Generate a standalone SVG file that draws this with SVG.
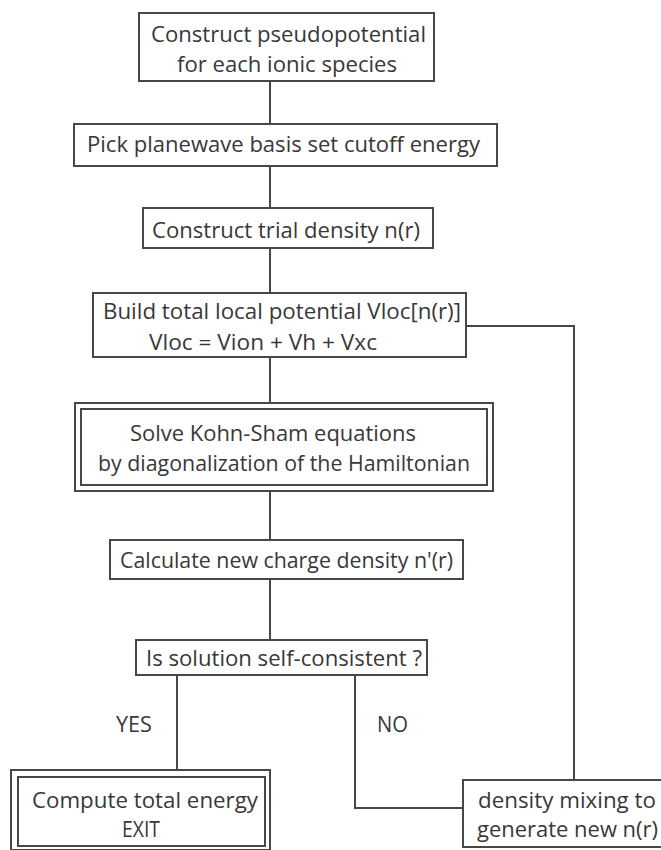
<svg xmlns="http://www.w3.org/2000/svg" width="661" height="850" viewBox="0 0 661 850">
<style>
.b{fill:#fff;stroke:#474747;stroke-width:2}
.c{fill:none;stroke:#474747;stroke-width:2}
text{font-family:"Open Sans","Noto Sans","Liberation Sans",sans-serif;font-size:21px;fill:#383838}
</style>
<rect width="661" height="850" fill="#fff"/>
<g id="connectors">
<path class="c" d="M270 81V124M270 166V208M270 248V293M270 357V403M270 491V540M270 579V640"/>
<path class="c" d="M466 326H574V780"/>
<path class="c" d="M177 675V770"/>
<path class="c" d="M355 675V808H463"/>
</g>
<g id="n1"><rect class="b" x="139" y="13" width="295" height="68"/>
<text x="151" y="42" textLength="275" lengthAdjust="spacingAndGlyphs">Construct pseudopotential</text>
<text x="177" y="72" textLength="220" lengthAdjust="spacingAndGlyphs">for each ionic species</text></g>
<g id="n2"><rect class="b" x="74" y="124" width="423" height="42"/>
<text x="87" y="152" textLength="393" lengthAdjust="spacingAndGlyphs">Pick planewave basis set cutoff energy</text></g>
<g id="n3"><rect class="b" x="143" y="208" width="290" height="40"/>
<text x="152" y="238" textLength="268" lengthAdjust="spacingAndGlyphs">Construct trial density n(r)</text></g>
<g id="n4"><rect class="b" x="93" y="293" width="373" height="64"/>
<text x="103" y="319" textLength="358" lengthAdjust="spacingAndGlyphs">Build total local potential Vloc[n(r)]</text>
<text x="149" y="350" textLength="228" lengthAdjust="spacingAndGlyphs">Vloc = Vion + Vh + Vxc</text></g>
<g id="n5"><rect class="b" x="75" y="403" width="418" height="88"/>
<rect class="b" x="81" y="409" width="406" height="76"/>
<text x="130" y="441" textLength="286" lengthAdjust="spacingAndGlyphs">Solve Kohn-Sham equations</text>
<text x="98" y="471" textLength="372" lengthAdjust="spacingAndGlyphs">by diagonalization of the Hamiltonian</text></g>
<g id="n6"><rect class="b" x="110" y="540" width="353" height="39"/>
<text x="120" y="568" textLength="333" lengthAdjust="spacingAndGlyphs">Calculate new charge density n'(r)</text></g>
<g id="n7"><rect class="b" x="136" y="640" width="291" height="35"/>
<text x="146" y="666" textLength="276" lengthAdjust="spacingAndGlyphs">Is solution self-consistent ?</text></g>
<g id="labels">
<text x="116" y="732" textLength="36" lengthAdjust="spacingAndGlyphs">YES</text>
<text x="377" y="732" textLength="31" lengthAdjust="spacingAndGlyphs">NO</text></g>
<g id="n8"><rect class="b" x="11" y="770" width="259" height="80"/>
<rect class="b" x="18" y="777" width="247" height="69"/>
<text x="32" y="808" textLength="226" lengthAdjust="spacingAndGlyphs">Compute total energy</text>
<text x="122" y="837" textLength="38" lengthAdjust="spacingAndGlyphs">EXIT</text></g>
<g id="n9"><rect class="b" x="463" y="780" width="202" height="67"/>
<text x="478" y="808" textLength="178" lengthAdjust="spacingAndGlyphs">density mixing to</text>
<text x="477" y="837" textLength="181" lengthAdjust="spacingAndGlyphs">generate new n(r)</text></g>
</svg>
